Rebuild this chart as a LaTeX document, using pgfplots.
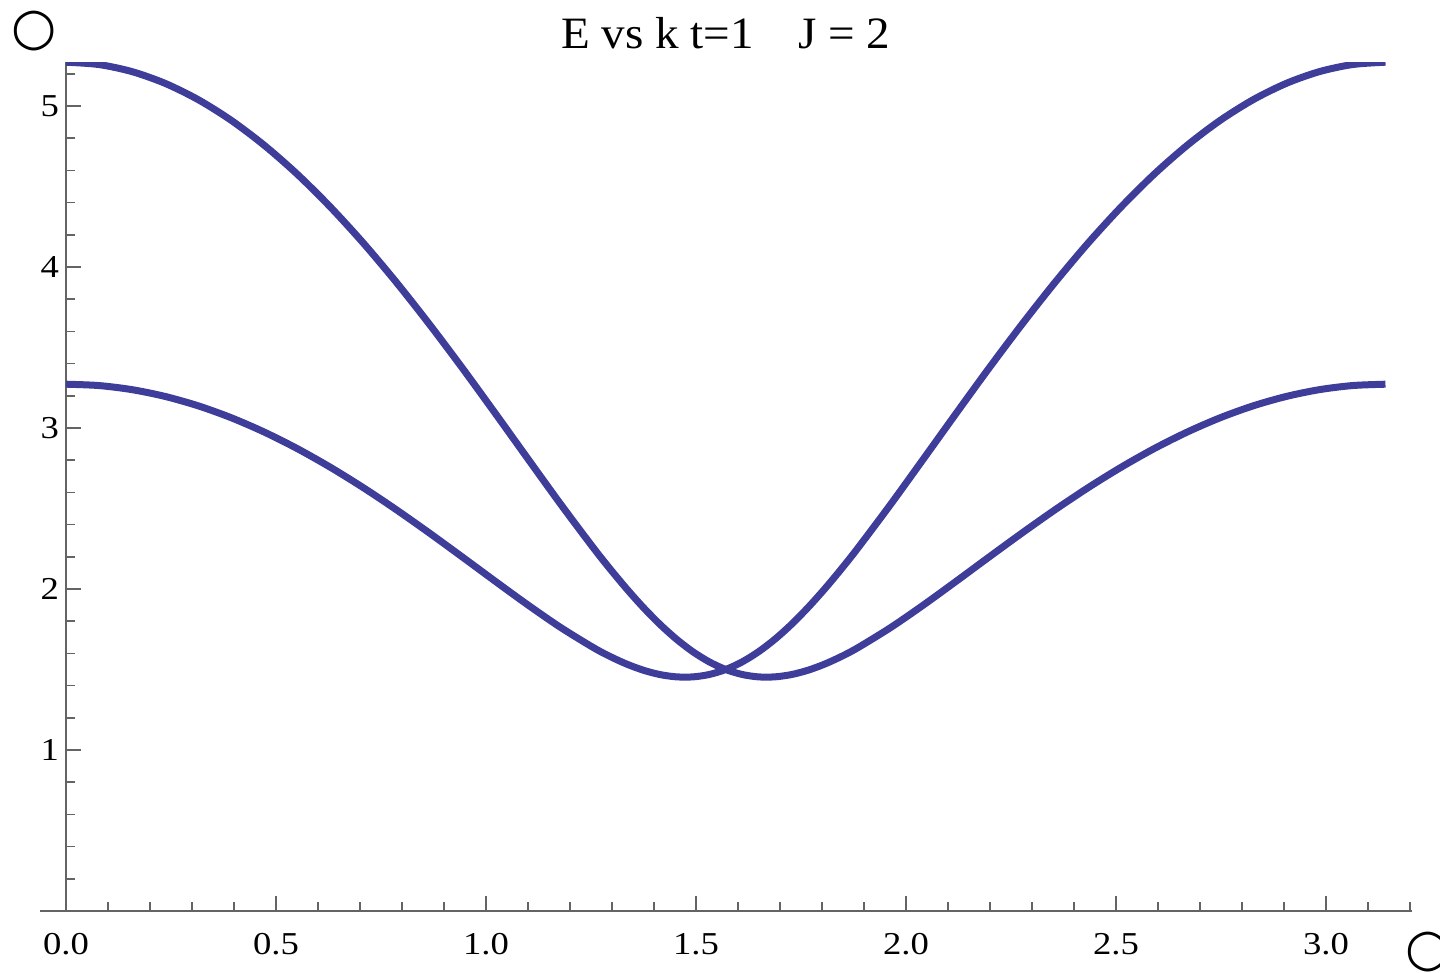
\documentclass[border=0pt]{standalone}
\usepackage{fontspec}
\setmainfont{Liberation Serif}
\newfontfamily\tickfont[FakeStretch=1.15]{Liberation Serif}
\newfontfamily\titlefont[FakeStretch=1.05]{Liberation Serif}
\newfontfamily\symfont{DejaVu Sans}
\usepackage{pgfplots}
\usepackage{pgfplotstable}
\pgfplotsset{compat=1.18}
\definecolor{bandblue}{RGB}{62,61,153}
\definecolor{axisgray}{RGB}{100,100,100}

% Two energy bands E(k) for t=1, J=2 (denser sampling around the band minima)
\pgfplotstableread{
k      A      B
0.0000 5.2720 3.2720
0.0785 5.2574 3.2636
0.1571 5.2136 3.2382
0.2356 5.1411 3.1963
0.3142 5.0403 3.1382
0.3927 4.9122 3.0645
0.4712 4.7578 2.9758
0.5498 4.5785 2.8732
0.6283 4.3758 2.7578
0.7069 4.1518 2.6310
0.7854 3.9087 2.4945
0.8639 3.6492 2.3503
0.9425 3.3767 2.2011
1.0210 3.0951 2.0501
1.0996 2.8094 1.9014
1.1781 2.5258 1.7605
1.2566 2.2527 1.6347
1.2959 2.1232 1.5803
1.3352 2.0003 1.5335
1.3744 1.8859 1.4958
1.4137 1.7817 1.4688
1.4530 1.6895 1.4544
1.4923 1.6109 1.4540
1.5315 1.5475 1.4689
1.5708 1.5000 1.5000
1.6101 1.4689 1.5475
1.6493 1.4540 1.6109
1.6886 1.4544 1.6895
1.7279 1.4688 1.7817
1.7671 1.4958 1.8859
1.8064 1.5335 2.0003
1.8457 1.5803 2.1232
1.8850 1.6347 2.2527
1.9635 1.7605 2.5258
2.0420 1.9014 2.8094
2.1206 2.0501 3.0951
2.1991 2.2011 3.3767
2.2777 2.3503 3.6492
2.3562 2.4945 3.9087
2.4347 2.6310 4.1518
2.5133 2.7578 4.3758
2.5918 2.8732 4.5785
2.6704 2.9758 4.7578
2.7489 3.0645 4.9122
2.8274 3.1382 5.0403
2.9060 3.1963 5.1411
2.9845 3.2382 5.2136
3.0631 3.2636 5.2574
3.1416 3.2720 5.2720
}\bands

\begin{document}
\begin{tikzpicture}
\useasboundingbox (0,0) rectangle (720bp,486.5bp);
\begin{axis}[
  x=210bp, y=80.5bp,
  xmin=-0.0628, xmax=3.2044, ymin=0, ymax=5.272,
  anchor=south west, at={(19.8bp,31bp)},
  axis x line=middle, axis y line=middle,
  axis line style={-, draw=axisgray, line width=0.75bp},
  hide obscured x ticks=false,
  xtick={0,0.5,1,1.5,2,2.5,3},
  ytick={1,2,3,4,5},
  minor xtick={0,0.1,...,3.21},
  minor ytick={0,0.2,...,5.21},
  xtick align=inside, ytick align=inside,
  major tick length=7.5bp, minor tick length=4.5bp,
  tick style={axisgray, line width=0.75bp},
  /pgf/number format/assume math mode=true,
  xticklabel={\pgfmathprintnumber[fixed,fixed zerofill,precision=1]{\tick}},
  tick label style={font=\tickfont\fontsize{16}{18}\selectfont},
  xticklabel style={yshift=-7.5bp},
  title={E vs k t=1\quad J = 2},
  title style={font=\titlefont\fontsize{22.5}{24}\selectfont, anchor=base, at={(axis description cs:0.5,1)}, yshift=1bp},
  xlabel={\symfont ○},
  ylabel={\symfont ○},
  every axis x label/.style={at={(axis description cs:1.012,-0.048)}, anchor=center, font=\fontsize{26}{28}\selectfont},
  every axis y label/.style={at={(axis description cs:-0.004,1.0365)}, anchor=center, font=\fontsize{26}{28}\selectfont},
]
\addplot[bandblue, line width=3.5bp, smooth] table[x=k, y=A] {\bands};
\addplot[bandblue, line width=3.5bp, smooth] table[x=k, y=B] {\bands};
\end{axis}
\end{tikzpicture}
\end{document}
